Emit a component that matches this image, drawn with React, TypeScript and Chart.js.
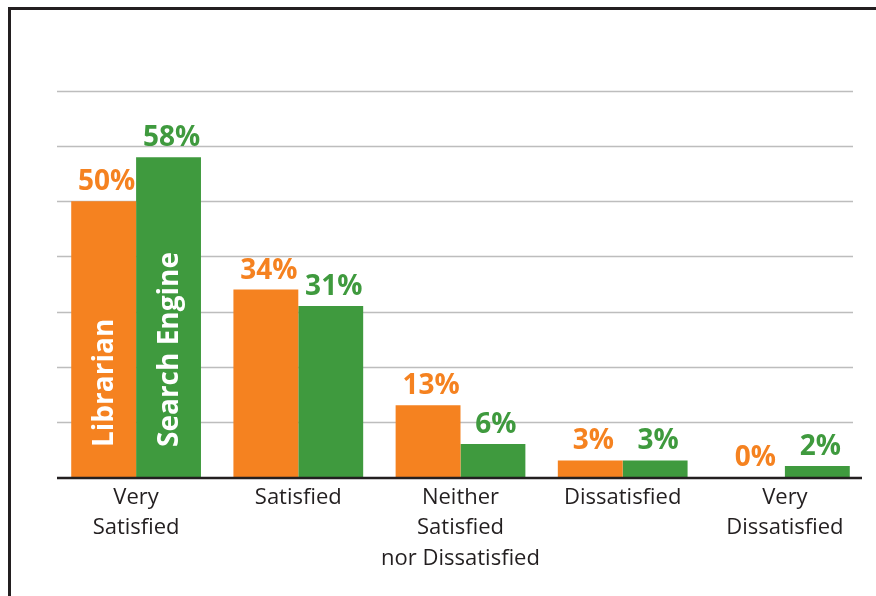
import React, { useEffect, useRef } from "react";
import { Chart, registerables } from "chart.js";

Chart.register(...registerables);

const categories: string[][] = [
  ["Very", "Satisfied"],
  ["Satisfied"],
  ["Neither", "Satisfied", "nor Dissatisfied"],
  ["Dissatisfied"],
  ["Very", "Dissatisfied"],
];
const librarian = [50, 34, 13, 3, 0];
const searchEngine = [58, 31, 6, 3, 2];
const gridValues = [10, 20, 30, 40, 50, 60, 70];
const seriesNames = ["Librarian", "Search Engine"];

const ORANGE = "#F58220";
const GREEN = "#3F9A3E";
const DARK = "#231F20";
const FONT = "'Open Sans', 'Noto Sans', sans-serif";

const decorPlugin = {
  id: "decor",
  beforeDatasetsDraw(chart: any) {
    const ctx = chart.ctx;
    const y = chart.scales.y;
    ctx.save();
    ctx.strokeStyle = "#BDBDBD";
    ctx.lineWidth = 1.5;
    gridValues.forEach((v) => {
      const py = Math.round(y.getPixelForValue(v)) + 0.5;
      ctx.beginPath();
      ctx.moveTo(57, py);
      ctx.lineTo(853, py);
      ctx.stroke();
    });
    ctx.restore();
  },
  afterDatasetsDraw(chart: any) {
    const ctx = chart.ctx;
    const y = chart.scales.y;
    ctx.save();
    const py0 = y.getPixelForValue(0);
    ctx.strokeStyle = DARK;
    ctx.lineWidth = 2.5;
    ctx.beginPath();
    ctx.moveTo(57, py0 + 1);
    ctx.lineTo(862, py0 + 1);
    ctx.stroke();

    ctx.font = `bold 28px ${FONT}`;
    ctx.textAlign = "center";
    ctx.textBaseline = "alphabetic";
    chart.data.datasets.forEach((ds: any, di: number) => {
      const meta = chart.getDatasetMeta(di);
      ctx.fillStyle = ds.backgroundColor;
      meta.data.forEach((bar: any, i: number) => {
        ctx.fillText(`${ds.data[i]}%`, bar.x + 3, bar.y - 11);
      });
    });

    ctx.font = `bold 28px ${FONT}`;
    ctx.fillStyle = "#FFFFFF";
    ctx.textAlign = "left";
    ctx.textBaseline = "middle";
    chart.data.datasets.forEach((ds: any, di: number) => {
      const bar = chart.getDatasetMeta(di).data[0];
      ctx.save();
      ctx.translate(bar.x + 1, py0 - 30);
      ctx.rotate(-Math.PI / 2);
      ctx.fillText(ds.label, 0, 0);
      ctx.restore();
    });
    ctx.restore();
  },
};

export default function App() {
  const ref = useRef<HTMLCanvasElement | null>(null);
  useEffect(() => {
    if (!ref.current) return;
    const chart = new Chart(ref.current, {
      type: "bar",
      data: {
        labels: categories,
        datasets: [
          { label: seriesNames[0], data: librarian, backgroundColor: ORANGE },
          { label: seriesNames[1], data: searchEngine, backgroundColor: GREEN },
        ],
      },
      options: {
        animation: false,
        responsive: false,
        maintainAspectRatio: false,
        devicePixelRatio: 1,
        layout: { padding: { left: 55, right: 10, top: 91, bottom: 0 } },
        plugins: { legend: { display: false }, tooltip: { enabled: false } },
        datasets: { bar: { categoryPercentage: 0.8, barPercentage: 1.0 } },
        scales: {
          x: {
            grid: { display: false, drawTicks: false },
            border: { display: false },
            ticks: {
              color: DARK,
              padding: 6,
              font: { family: FONT, size: 22, lineHeight: 1.37 },
              maxRotation: 0,
              autoSkip: false,
            },
            afterFit: (scale: any) => {
              scale.height = 119;
            },
          },
          y: {
            display: false,
            min: 0,
            max: 70,
          },
        },
      },
      plugins: [decorPlugin],
    });
    return () => chart.destroy();
  }, []);

  return (
    <div style={{ position: "absolute", left: 0, top: 0, width: 876, height: 596, background: "#fff" }}>
      <canvas ref={ref} width={876} height={596} style={{ position: "absolute", left: 0, top: 0, width: 876, height: 596 }} />
      <div
        style={{
          position: "absolute",
          left: 8,
          top: 7,
          width: 868,
          height: 589,
          borderTop: `3px solid ${DARK}`,
          borderLeft: `3px solid ${DARK}`,
          boxSizing: "border-box",
          pointerEvents: "none",
        }}
      />
    </div>
  );
}
